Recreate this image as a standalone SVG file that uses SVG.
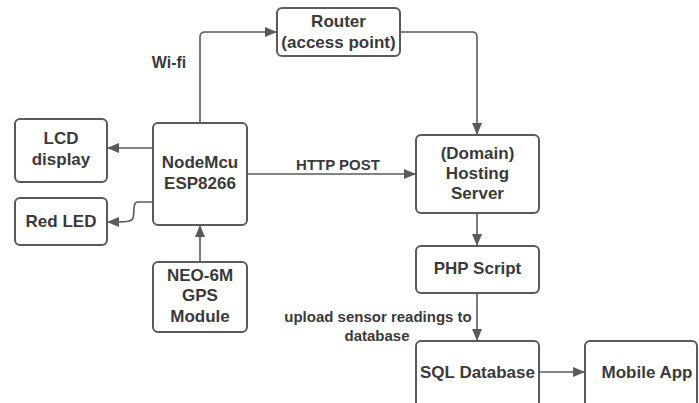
<svg xmlns="http://www.w3.org/2000/svg" width="699" height="403" viewBox="0 0 699 403">
<defs>
<style>
.box{fill:#fff;stroke:#5a5a5a;stroke-width:2}
.t{font-family:"Liberation Sans",Arial,sans-serif;font-weight:bold;font-size:17px;fill:#3a3a3a;text-anchor:middle}
.lbl{font-family:"Liberation Sans",Arial,sans-serif;font-weight:bold;font-size:15px;fill:#3a3a3a;text-anchor:middle}
.c{fill:none;stroke:#5a5a5a;stroke-width:1.6}
</style>
<marker id="ah" markerWidth="12" markerHeight="10" refX="11" refY="5" orient="auto" markerUnits="userSpaceOnUse">
<path d="M0,0 L12,5 L0,10 Z" fill="#5a5a5a"/>
</marker>
</defs>
<rect width="699" height="403" fill="#fff"/>
<g id="connectors">
<path class="c" d="M200,123 V37 Q200,32 205,32 H276" marker-end="url(#ah)"/>
<path class="c" d="M401,32 H472 Q477,32 477,37 V134" marker-end="url(#ah)"/>
<path class="c" d="M153,148 H108" marker-end="url(#ah)"/>
<path class="c" d="M153,202 H138 C132,202 135,212 133,218 C132,222 126,222 108,222" marker-end="url(#ah)"/>
<path class="c" d="M200,262 V226" marker-end="url(#ah)"/>
<path class="c" d="M247,174 H415" marker-end="url(#ah)"/>
<path class="c" d="M477,213 V245" marker-end="url(#ah)"/>
<path class="c" d="M477,293 V340" marker-end="url(#ah)"/>
<path class="c" d="M539,372 H584" marker-end="url(#ah)"/>
<text class="lbl" x="169" y="68" style="font-size:16px">Wi-fi</text>
<text class="lbl" x="338" y="170">HTTP POST</text>
<text class="lbl" x="378" y="322">upload sensor readings to</text>
<text class="lbl" x="377" y="341">database</text>
</g>
<g id="router">
<rect class="box" x="277" y="8" width="123" height="48" rx="5"/>
<text class="t" x="338.5" y="27">Router</text>
<text class="t" x="338.5" y="48">(access point)</text>
</g>
<g id="lcd">
<rect class="box" x="15" y="119" width="92" height="63" rx="5"/>
<text class="t" x="61" y="144">LCD</text>
<text class="t" x="61" y="165">display</text>
</g>
<g id="nodemcu">
<rect class="box" x="153" y="123" width="94" height="102" rx="5"/>
<text class="t" x="200" y="168">NodeMcu</text>
<text class="t" x="200" y="189">ESP8266</text>
</g>
<g id="redled">
<rect class="box" x="15" y="198" width="92" height="47" rx="5"/>
<text class="t" x="61" y="227">Red LED</text>
</g>
<g id="neo6m">
<rect class="box" x="153" y="262" width="94" height="70" rx="5"/>
<text class="t" x="200" y="281">NEO-6M</text>
<text class="t" x="200" y="301">GPS</text>
<text class="t" x="200" y="322">Module</text>
</g>
<g id="hosting">
<rect class="box" x="416" y="135" width="123" height="78" rx="5"/>
<text class="t" x="477.5" y="159">(Domain)</text>
<text class="t" x="477.5" y="179">Hosting</text>
<text class="t" x="477.5" y="199">Server</text>
</g>
<g id="php">
<rect class="box" x="416" y="246" width="123" height="47" rx="5"/>
<text class="t" x="477.5" y="274">PHP Script</text>
</g>
<g id="sql">
<rect class="box" x="416" y="341" width="123" height="66" rx="5"/>
<text class="t" x="477.5" y="378">SQL Database</text>
</g>
<g id="mobile">
<rect class="box" x="585" y="341" width="112" height="66" rx="5"/>
<text class="t" x="647" y="378">Mobile App</text>
</g>
</svg>
